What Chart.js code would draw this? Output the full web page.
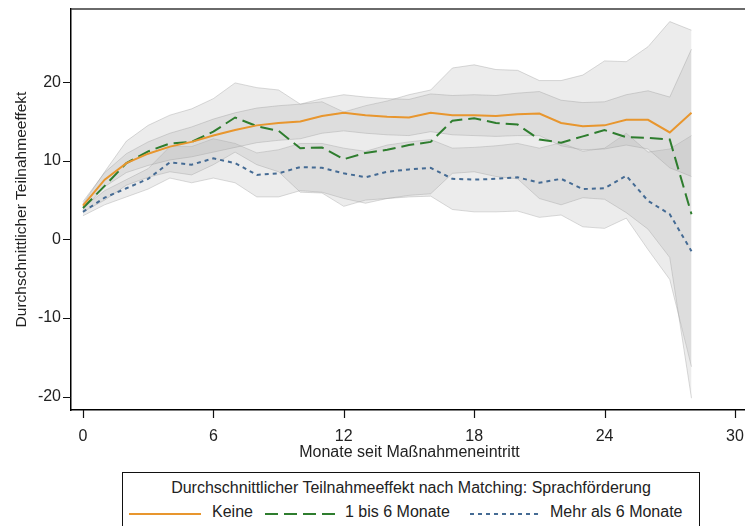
<!DOCTYPE html>
<html>
<head>
<meta charset="utf-8">
<script src="https://cdn.jsdelivr.net/npm/chart.js@4"></script>
<style>
	body { margin: 0; width: 745px; height: 526px; overflow: hidden; background: #fff; font-family: "Liberation Sans", Arial, sans-serif; }
	#wrap { position: relative; width: 752px; height: 470px; }
	#legendBox { position: absolute; left: 122px; top: 472px; width: 578px; height: 70px; border: 1px solid #111; box-sizing: border-box; color: #222; font-size: 16px; }
	#legendBox .title { position: absolute; left: 0; right: 0; top: 6px; text-align: center; }
	#legendBox .item { position: absolute; top: 30px; white-space: nowrap; }
	#legendBox svg { position: absolute; top: 39px; }
</style>
</head>
<body>
<div id="wrap"><canvas id="effectChart" width="752" height="470"></canvas></div>
<div id="legendBox">
	<div class="title">Durchschnittlicher Teilnahmeeffekt nach Matching: Sprachförderung</div>
	<svg style="left:6px" width="72" height="4"><line x1="0" y1="2" x2="72" y2="2" stroke="#e8962e" stroke-width="2"/></svg>
	<div class="item" style="left:89px">Keine</div>
	<svg style="left:142px" width="70" height="4"><line x1="0" y1="2" x2="70" y2="2" stroke="#2e7d2e" stroke-width="2" stroke-dasharray="13 6"/></svg>
	<div class="item" style="left:222px">1 bis 6 Monate</div>
	<svg style="left:347px" width="70" height="4"><line x1="0" y1="2" x2="70" y2="2" stroke="#456b94" stroke-width="2" stroke-dasharray="4 4"/></svg>
	<div class="item" style="left:427px">Mehr als 6 Monate</div>
</div>
<script>
"use strict";

// Months since entry into the measure
const months = [0, 1, 2, 3, 4, 5, 6, 7, 8, 9, 10, 11, 12, 13, 14, 15, 16, 17, 18, 19, 20, 21, 22, 23, 24, 25, 26, 27, 28];
const xTicks = [0, 6, 12, 18, 24, 30];
const yTicks = [-20, -10, 0, 10, 20];

// Keine (no language course)
const keine = [4.3, 7.6, 9.7, 10.9, 11.8, 12.4, 13.2, 13.9, 14.5, 14.8, 15.0, 15.7, 16.1, 15.8, 15.6, 15.5, 16.1, 15.8, 15.8, 15.7, 15.9, 16.0, 14.8, 14.4, 14.5, 15.2, 15.2, 13.6, 16.1];
const keineUpper = [4.8, 8.5, 10.9, 12.4, 13.5, 14.3, 15.3, 16.1, 16.7, 17.0, 17.2, 17.9, 18.4, 18.1, 17.9, 17.8, 18.5, 18.3, 18.4, 18.3, 18.6, 18.8, 17.7, 17.4, 17.5, 18.4, 18.9, 18.1, 24.2];
const keineLower = [3.8, 6.7, 8.5, 9.4, 10.1, 10.5, 11.1, 11.7, 12.3, 12.6, 12.8, 13.5, 13.8, 13.5, 13.3, 13.2, 13.7, 13.3, 13.2, 13.1, 13.2, 13.2, 11.9, 11.4, 11.5, 12.0, 11.5, 9.1, 8.0];

// 1 bis 6 Monate
const kurz = [4.0, 6.8, 9.7, 11.2, 12.2, 12.4, 13.7, 15.5, 14.4, 13.8, 11.6, 11.7, 10.2, 11.0, 11.4, 12.0, 12.4, 15.1, 15.4, 14.8, 14.6, 12.7, 12.3, 13.1, 13.9, 13.0, 12.9, 12.7, 3.2];
const kurzUpper = [4.5, 8.6, 12.5, 14.5, 15.8, 16.6, 17.9, 19.9, 19.3, 19.0, 17.2, 17.5, 16.2, 17.0, 17.6, 18.4, 19.0, 21.8, 22.2, 21.6, 21.5, 20.2, 20.2, 20.9, 22.7, 22.6, 24.5, 27.7, 26.6];
const kurzLower = [3.5, 5.0, 6.9, 7.9, 8.6, 8.2, 9.5, 11.1, 9.5, 8.6, 6.0, 5.9, 4.2, 5.0, 5.2, 5.6, 5.8, 8.4, 8.6, 8.0, 7.7, 5.2, 4.4, 5.3, 5.1, 3.4, 1.3, -2.3, -20.2];

// Mehr als 6 Monate
const lang = [3.5, 5.3, 6.5, 7.7, 9.8, 9.5, 10.3, 9.7, 8.2, 8.4, 9.2, 9.1, 8.4, 7.9, 8.6, 8.9, 9.1, 7.7, 7.6, 7.7, 7.9, 7.2, 7.7, 6.4, 6.5, 8.1, 4.9, 3.2, -1.5];
const langUpper = [4.0, 6.2, 7.6, 9.0, 11.8, 11.8, 12.8, 12.2, 11.0, 11.4, 12.2, 12.2, 11.6, 11.2, 12.0, 12.4, 12.7, 11.6, 11.7, 11.9, 12.2, 11.6, 12.3, 11.2, 11.6, 13.5, 11.1, 11.5, 13.2];
const langLower = [3.0, 4.4, 5.4, 6.4, 7.8, 7.2, 7.8, 7.2, 5.4, 5.4, 6.2, 6.0, 5.2, 4.6, 5.2, 5.4, 5.5, 3.8, 3.5, 3.5, 3.6, 2.8, 3.1, 1.6, 1.4, 2.7, -1.3, -5.1, -16.2];

const FONT = { family: '"Liberation Sans", Arial, sans-serif', size: 16 };
const BAND_FILL = 'rgba(175,175,175,0.23)';
const BAND_LINE = 'rgba(150,150,150,0.35)';

const toPoints = (values) => months.map((m, i) => ({ x: m, y: values[i] }));

const lineSet = (values, color, dash) => ({
	data: toPoints(values),
	borderColor: color,
	borderWidth: 2,
	borderDash: dash,
	pointRadius: 0,
	tension: 0,
	fill: false
});

// upper edge fills down to the lower edge (next dataset)
const bandSet = (values, isUpper) => ({
	data: toPoints(values),
	borderColor: BAND_LINE,
	borderWidth: 1,
	backgroundColor: BAND_FILL,
	pointRadius: 0,
	tension: 0,
	fill: isUpper ? '+1' : false
});

// fixed axis box, no extra padding for overhanging labels
const fixScale = (size) => (scale) => {
	if (scale.isHorizontal()) scale.height = size; else scale.width = size;
	scale.paddingLeft = 0;
	scale.paddingRight = 0;
	scale.paddingTop = 0;
	scale.paddingBottom = 0;
};

// frame on top and right side of the plot region, plus outward tick marks
const plotBorder = {
	id: 'plotBorder',
	afterDraw: (chart) => {
		const { ctx, chartArea: a, scales } = chart;
		ctx.save();
		ctx.strokeStyle = '#3a3a3a';
		ctx.lineWidth = 1.5;
		ctx.beginPath();
		ctx.moveTo(a.left, a.top);
		ctx.lineTo(a.right, a.top);
		ctx.lineTo(a.right, a.bottom);
		ctx.stroke();
		ctx.strokeStyle = '#111';
		ctx.lineWidth = 1.2;
		ctx.beginPath();
		yTicks.forEach(v => {
			const py = Math.round(scales.y.getPixelForValue(v)) + 0.5;
			ctx.moveTo(a.left - 8, py);
			ctx.lineTo(a.left, py);
		});
		xTicks.forEach(v => {
			const px = Math.round(scales.x.getPixelForValue(v)) + 0.5;
			ctx.moveTo(px, a.bottom);
			ctx.lineTo(px, a.bottom + 8);
		});
		ctx.stroke();
		ctx.restore();
	}
};

new Chart(document.getElementById('effectChart'), {
	type: 'line',
	data: {
		datasets: [
			lineSet(keine, '#e8962e', []),
			lineSet(kurz, '#2e7d2e', [13, 6]),
			lineSet(lang, '#456b94', [4, 4]),
			bandSet(keineUpper, true),
			bandSet(keineLower, false),
			bandSet(kurzUpper, true),
			bandSet(kurzLower, false),
			bandSet(langUpper, true),
			bandSet(langLower, false)
		]
	},
	options: {
		responsive: false,
		animation: false,
		layout: { padding: { top: 9, right: 4, left: 0, bottom: 0 } },
		plugins: {
			legend: { display: false },
			tooltip: { enabled: false }
		},
		scales: {
			x: {
				type: 'linear',
				min: -0.55,
				max: 30.6,
				afterBuildTicks: (scale) => { scale.ticks = xTicks.map(v => ({ value: v })); },
				afterFit: fixScale(60),
				grid: { display: false, drawTicks: false },
				border: { display: true, color: '#000', width: 1.5 },
				ticks: { padding: 17, color: '#222', font: FONT, maxRotation: 0 },
				title: { display: true, text: 'Monate seit Maßnahmeneintritt', color: '#222', font: FONT, padding: { top: 0, bottom: 8 } }
			},
			y: {
				min: -21.7,
				max: 29.3,
				afterBuildTicks: (scale) => { scale.ticks = yTicks.map(v => ({ value: v })); },
				afterFit: fixScale(71),
				grid: { display: false, drawTicks: false },
				border: { display: true, color: '#000', width: 1.5 },
				ticks: { padding: 10, color: '#222', font: FONT },
				title: { display: true, text: 'Durchschnittlicher Teilnahmeeffekt', color: '#222', font: { family: FONT.family, size: 15.5 }, padding: { top: 12, bottom: 0 } }
			}
		}
	},
	plugins: [plotBorder]
});
</script>
</body>
</html>
